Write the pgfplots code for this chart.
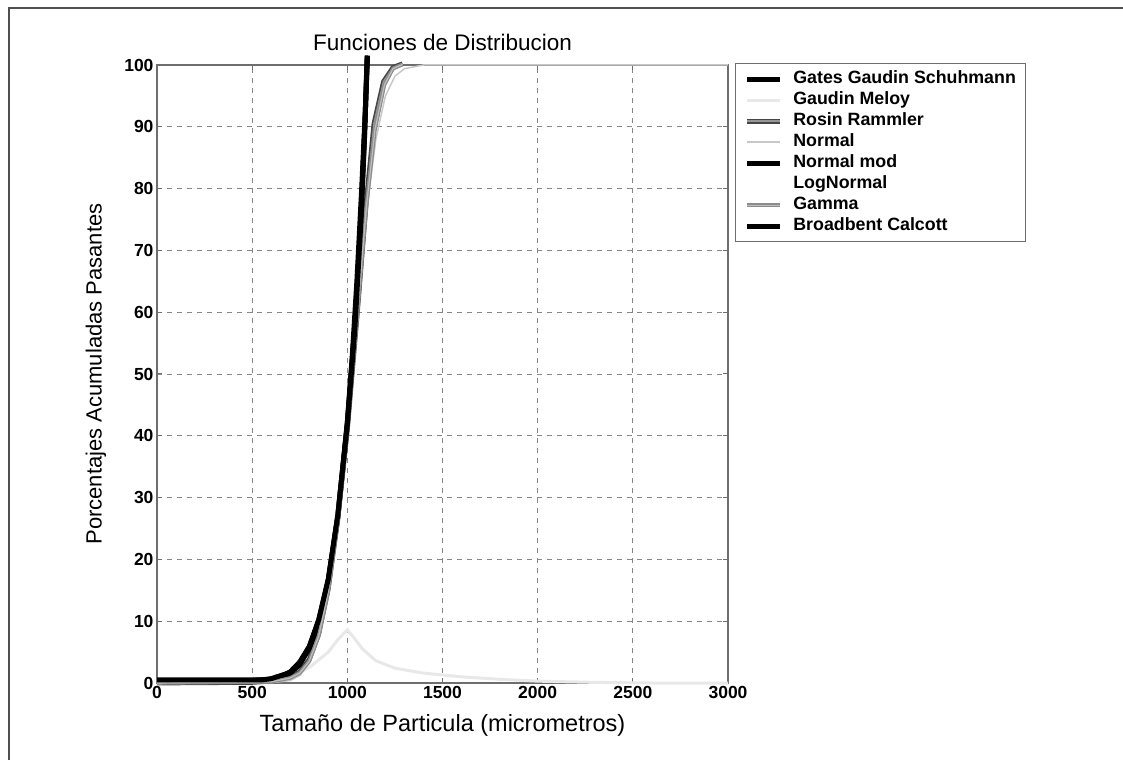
\documentclass[border=0pt]{standalone}
\usepackage{fontspec}
\setmainfont{Liberation Sans}
\usepackage{pgfplots}
\pgfplotsset{compat=1.18}

\definecolor{gridgray}{RGB}{135,135,135}
\definecolor{axisgray}{RGB}{110,110,110}
\definecolor{framegray}{RGB}{80,80,80}
\definecolor{gmgray}{RGB}{232,232,232}
\definecolor{rrdark}{RGB}{70,70,70}
\definecolor{rrlight}{RGB}{150,150,150}
\definecolor{normgray}{RGB}{200,200,200}
\definecolor{gamdark}{RGB}{140,140,140}
\definecolor{gamlight}{RGB}{190,190,190}

\newcommand{\tickfont}{\fontsize{17.5}{20}\selectfont\bfseries}
\newcommand{\legfont}{\fontsize{17.8}{20}\selectfont\bfseries}

\begin{document}
\begin{tikzpicture}
\useasboundingbox (0,0) rectangle (1123pt,760pt);
% outer frame of the figure window
\draw[framegray, line width=1.5pt] (9pt,0pt) -- (9pt,752pt) -- (1123pt,752pt);

\begin{axis}[
  at={(157pt,77pt)}, anchor=south west,
  scale only axis, width=571pt, height=618pt,
  xmin=0, xmax=3000, ymin=0, ymax=100,
  xtick={0,500,...,3000}, ytick={0,10,...,100},
  grid=major,
  major grid style={gridgray, dash pattern=on 5pt off 5pt, line width=0.8pt},
  axis line style={axisgray, line width=1.2pt},
  tick align=inside, major tick length=5pt,
  tick style={axisgray, line width=1pt},
  clip=false,
  ticklabel style={font=\tickfont},
  /pgf/number format/assume math mode=true,
  /pgf/number format/1000 sep={},
  scaled ticks=false,
  title={Funciones de Distribucion},
  title style={at={(axis description cs:0.5,1.026)}, anchor=center,
    font=\fontsize{22.5}{25}\selectfont},
  xlabel={Tamaño de Particula (micrometros)},
  xlabel style={at={(axis description cs:0.5,-0.068)}, anchor=center,
    font=\fontsize{23.5}{26}\selectfont},
  ylabel={Porcentajes Acumuladas Pasantes},
  ylabel style={at={(axis description cs:-0.107,0.5)}, anchor=center,
    font=\fontsize{22}{25}\selectfont},
  legend style={at={(axis description cs:1.012,1.003)}, anchor=north west,
    draw=axisgray, line width=1pt, fill=white, font=\legfont,
    inner xsep=9pt, inner ysep=6pt, row sep=2pt, column sep=10pt,
    nodes={inner sep=1pt, text height=13pt, text depth=4pt}},
  legend cell align=left,
  legend image code/.code={\draw[#1] (0pt,0pt) -- (33pt,0pt);},
]

% Gates Gaudin Schuhmann
\addplot[black, line width=5pt] coordinates {
 (0,0.3) (100,0.3) (200,0.3) (300,0.3) (400,0.3) (500,0.4) (600,0.6)
 (650,1.0) (700,1.8) (750,3.4) (800,5.9) (850,10.1) (900,16.7) (950,26.9)
 (1000,42.2) (1025,52.5) (1050,64.9) (1075,79.7) (1095,93) (1106,101.5)};
\addlegendentry{Gates Gaudin Schuhmann}

% Gaudin Meloy
\addplot[gmgray, line width=3pt] coordinates {
 (0,0) (400,0.1) (600,0.4) (700,1) (800,2.5) (900,5) (950,7) (1000,8.6)
 (1030,7.5) (1080,5.5) (1150,3.6) (1250,2.4) (1400,1.6) (1600,1)
 (1800,0.6) (2000,0.3) (2300,0.1) (2600,0) (3000,0)};
\addlegendentry{Gaudin Meloy}

% Rosin Rammler
\addplot[rrdark, line width=1.6pt, double=rrlight, double distance=1.6pt] coordinates {
 (0,0) (500,0.1) (600,0.3) (700,0.9) (750,1.8) (800,3.8) (850,8)
 (900,15.3) (950,26.5) (1000,41) (1050,59) (1100,78) (1140,90.5)
 (1190,97.3) (1240,99.6) (1290,100.2)};
\addlegendentry{Rosin Rammler}

% Normal
\addplot[normgray, line width=1.5pt] coordinates {
 (0,0) (600,0.05) (700,0.4) (750,1.2) (800,3.2) (850,7.6) (900,15.5)
 (950,27.8) (1000,43.5) (1050,60) (1100,76) (1150,88) (1200,95)
 (1250,98.2) (1300,99.4) (1400,100) (3000,100)};
\addlegendentry{Normal}

% Normal modificada
\addplot[black, line width=5pt] coordinates {
 (0,0.4) (500,0.4) (600,0.6) (700,1.6) (750,3.0) (800,5.6) (850,9.8)
 (900,16.5) (950,27) (1000,42) (1040,58) (1070,74) (1090,88) (1104,101.5)};
\addlegendentry{Normal mod}

% LogNormal
\addplot[white, line width=1.5pt] coordinates {
 (0,0.4) (600,0.6) (700,1.6) (800,5.7) (900,16.6) (1000,42) (1050,62)
 (1090,88) (1104,100)};
\addlegendentry{LogNormal}

% Gamma
\addplot[gamdark, line width=1.2pt, double=gamlight, double distance=1.2pt] coordinates {
 (0,0) (600,0.2) (700,0.8) (750,1.6) (800,3.5) (850,7.6) (900,14.8)
 (950,26) (1000,40.5) (1050,58.5) (1100,77) (1145,89.5) (1195,96.8)
 (1240,99.4) (1290,100.1)};
\addlegendentry{Gamma}

% Broadbent Calcott
\addplot[black, line width=5pt] coordinates {
 (0,0.5) (300,0.5) (550,0.5) (600,0.7) (700,1.7) (750,3.2) (800,5.8)
 (850,10.3) (900,16.8) (950,27.2) (1000,41.8) (1040,57.5) (1070,74)
 (1092,90) (1105,101.5)};
\addlegendentry{Broadbent Calcott}

\end{axis}
\end{tikzpicture}
\end{document}
